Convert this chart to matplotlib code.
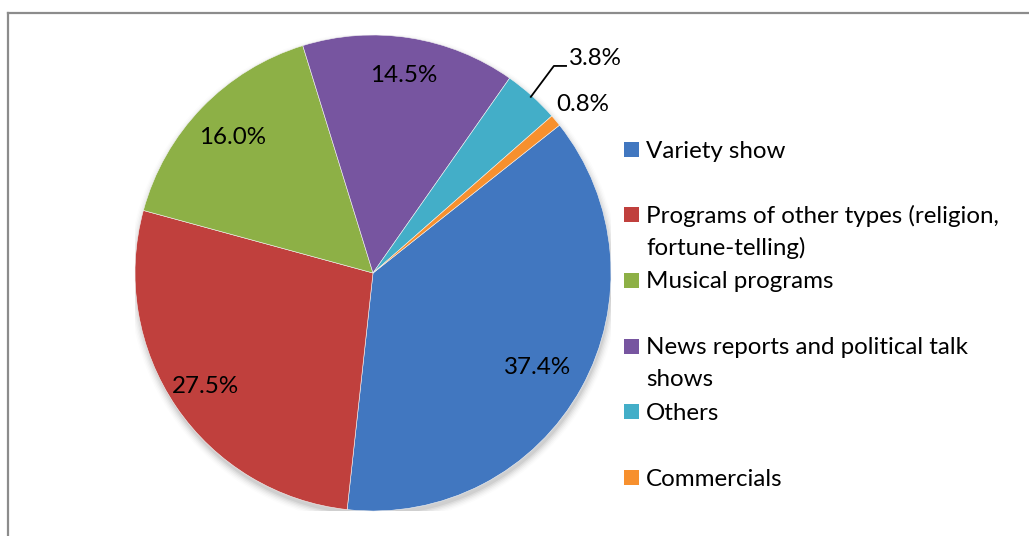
import numpy as np
import matplotlib
matplotlib.use("Agg")
import matplotlib.pyplot as plt
from matplotlib.patches import Rectangle, Circle
from matplotlib.lines import Line2D

labels = ["Variety show", "Programs of other types (religion,\nfortune-telling)", "Musical programs",
          "News reports and political talk\nshows", "Others", "Commercials"]
shares = [37.4, 27.5, 16.0, 14.5, 3.8, 0.8]
colors = ["#4177C0", "#C0403D", "#8DB046", "#7755A0", "#43AEC8", "#F7902E"]
# label distance from centre (fraction of radius) and angle nudge, per slice
label_r = [0.80, 0.85, 0.82, 0.84, 1.30, 1.14]
label_da = [-1.0, 0.0, 0.0, 0.0, -4.0, -0.6]

W, H, DPI = 1029, 536, 100
FONT = "Lato"
FS = 17.4

fig = plt.figure(figsize=(W / DPI, H / DPI), dpi=DPI)
fig.patch.set_facecolor("white")

# chart frame (only left/top edges fall inside the canvas)
fig.add_artist(Line2D([8 / W, 8 / W], [0, 1 - 13 / H], color="#8c8c8c", lw=1.6))
fig.add_artist(Line2D([8 / W, 1], [1 - 13 / H, 1 - 13 / H], color="#8c8c8c", lw=1.6))

cx, cy, R = 373, 273, 238
ax = fig.add_axes([(cx - R) / W, (H - cy - R) / H, 2 * R / W, 2 * R / H])
ax.set_aspect("equal")
ax.axis("off")

# soft drop shadow below the pie
for i, a in enumerate(np.linspace(0.05, 0.012, 6)):
    ax.add_patch(Circle((0.004, -0.018), 1.0 + 0.006 * i, color="#000000", alpha=a, lw=0, zorder=0))

start = 38.4
wedges, _ = ax.pie(shares, colors=colors, startangle=start, counterclock=False, radius=1.0,
                   wedgeprops=dict(edgecolor="#f4f4f4", linewidth=0.4))
ax.set_xlim(-1, 1)
ax.set_ylim(-1, 1)
for w in wedges:
    w.set_zorder(2)

cum = start
for i, s in enumerate(shares):
    mid = cum - s * 3.6 / 2
    cum -= s * 3.6
    ang = np.deg2rad(mid + label_da[i])
    x, y = label_r[i] * np.cos(ang), label_r[i] * np.sin(ang)
    if i == 4:
        # leader line for the small slice
        a0 = np.deg2rad(mid)
        x0, y0 = 0.99 * np.cos(a0), 0.99 * np.sin(a0)
        xk, yk = 0.76, 0.87
        ax.plot([x0, xk, xk + 0.055], [y0, yk, yk], color="black", lw=1.3, zorder=3,
                solid_capstyle="butt")
        ax.text(xk + 0.065, yk + 0.03, f"{s:.1f}%", ha="left", va="center",
                fontsize=FS, family=FONT, zorder=4)
    elif i == 5:
        ax.text(0.88, 0.71, f"{s:.1f}%", ha="center", va="center",
                fontsize=FS, family=FONT, zorder=4)
    else:
        ax.text(x, y, f"{s:.1f}%", ha="center", va="center", fontsize=FS, family=FONT, zorder=4)

# legend
row_y = [150, 215, 281, 347, 412, 478]
for lab, col, yy in zip(labels, colors, row_y):
    fig.add_artist(Rectangle((624 / W, 1 - (yy + 7) / H), 15 / W, 15 / H, transform=fig.transFigure,
                             facecolor=col, edgecolor="none"))
    fig.text(646 / W, 1 - (yy + 1) / H, lab.split("\n")[0], ha="left", va="center",
             fontsize=FS, family=FONT)
    if "\n" in lab:
        fig.text(646 / W, 1 - (yy + 33) / H, lab.split("\n")[1], ha="left", va="center",
                 fontsize=FS, family=FONT)

fig.savefig("out.png", dpi=DPI)
